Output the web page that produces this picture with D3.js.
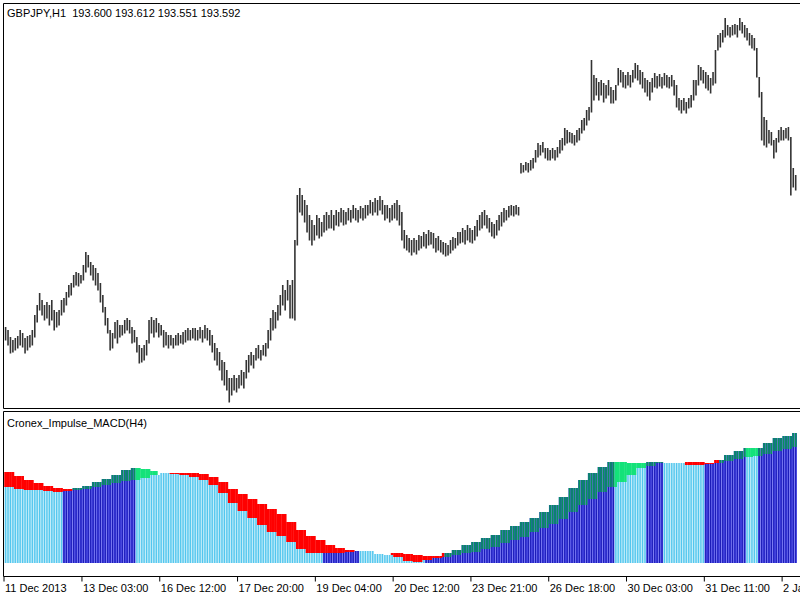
<!DOCTYPE html>
<html><head><meta charset="utf-8">
<script src="https://cdn.jsdelivr.net/npm/d3@7/dist/d3.min.js"></script>
<style>
html,body{margin:0;padding:0;background:#fff;}
svg{display:block;}
text{font-family:"Liberation Sans",Arial,sans-serif;font-size:11px;fill:#000;}
</style></head>
<body>
<svg id="chart" width="800" height="600"></svg>
<script>
// ---------- DATA ----------
const symbol = "GBPJPY,H1";
const quote = ["193.600", "193.612", "193.551", "193.592"];
const indicatorName = "Cronex_Impulse_MACD(H4)";

const hi = [169.73,169.70,169.63,169.60,169.62,169.64,169.70,169.67,169.62,169.64,
169.65,169.70,169.85,169.95,170.07,170.00,169.95,169.98,169.95,170.00,
169.90,169.88,169.90,170.00,170.02,170.08,170.15,170.17,170.25,170.28,
170.27,170.25,170.35,170.48,170.45,170.38,170.35,170.32,170.27,170.17,
170.05,169.93,169.82,169.70,169.67,169.78,169.80,169.75,169.75,169.80,
169.82,169.80,169.73,169.70,169.63,169.55,169.52,169.55,169.60,169.80,
169.83,169.80,169.82,169.77,169.75,169.70,169.68,169.65,169.65,169.62,
169.65,169.67,169.65,169.68,169.70,169.72,169.70,169.72,169.72,169.70,
169.73,169.70,169.75,169.72,169.70,169.65,169.57,169.52,169.48,169.40,
169.38,169.30,169.22,169.22,169.25,169.22,169.25,169.30,169.28,169.40,
169.45,169.48,169.45,169.52,169.55,169.50,169.55,169.57,169.70,169.82,
169.90,169.88,169.95,170.05,170.15,170.10,170.20,170.15,170.20,170.60,
171.05,171.12,171.05,171.00,170.95,170.85,170.80,170.75,170.85,170.82,
170.78,170.85,170.88,170.85,170.90,170.85,170.90,170.88,170.92,170.90,
170.88,170.92,170.90,170.95,170.92,170.90,170.94,170.92,170.95,170.95,
171.00,170.98,171.02,171.00,171.04,171.00,170.95,170.95,170.92,170.95,
170.97,171.00,170.95,170.88,170.70,170.65,170.62,170.60,170.62,170.60,
170.65,170.64,170.68,170.66,170.70,170.68,170.67,170.62,170.64,170.60,
170.58,170.57,170.55,170.60,170.63,170.62,170.68,170.68,170.72,170.70,
170.75,170.72,170.70,170.74,170.80,170.85,170.88,170.90,170.85,170.82,
170.78,170.76,170.80,170.85,170.88,170.92,170.90,170.94,170.95,170.94,
170.95,170.93,171.37,171.35,171.38,171.37,171.40,171.42,171.50,171.57,
171.55,171.58,171.52,171.52,171.50,171.52,171.50,171.53,171.60,171.62,
171.72,171.70,171.68,171.67,171.65,171.70,171.72,171.80,171.82,171.90,
171.93,172.40,172.25,172.22,172.18,172.20,172.17,172.15,172.20,172.13,
172.10,172.15,172.32,172.30,172.28,172.25,172.28,172.25,172.30,172.37,
172.35,172.30,172.28,172.22,172.20,172.18,172.22,172.27,172.24,172.26,
172.23,172.27,172.25,172.23,172.25,172.20,172.15,172.02,172.00,172.02,
171.98,172.02,172.05,172.20,172.20,172.35,172.33,172.30,172.28,172.25,
172.22,172.28,172.50,172.65,172.67,172.70,172.82,172.75,172.73,172.75,
172.76,172.75,172.82,172.78,172.75,172.72,172.67,172.65,172.62,172.52,
172.23,172.08,171.83,171.80,171.70,171.68,171.60,171.62,171.70,171.73,
171.70,171.72,171.73,171.63,171.32,171.25];

const lo = [169.60,169.55,169.47,169.48,169.50,169.52,169.55,169.53,169.47,169.50,
169.53,169.55,169.63,169.78,169.90,169.85,169.80,169.82,169.75,169.80,
169.70,169.73,169.75,169.85,169.88,169.95,170.03,170.05,170.13,170.15,
170.14,170.17,170.20,170.28,170.33,170.25,170.20,170.15,170.10,169.98,
169.88,169.75,169.67,169.50,169.52,169.62,169.57,169.63,169.65,169.67,
169.70,169.67,169.57,169.58,169.48,169.37,169.38,169.40,169.45,169.57,
169.67,169.63,169.68,169.63,169.65,169.53,169.55,169.52,169.55,169.52,
169.55,169.55,169.57,169.56,169.58,169.60,169.60,169.62,169.60,169.60,
169.62,169.58,169.62,169.60,169.55,169.48,169.40,169.35,169.30,169.20,
169.15,169.10,168.98,169.05,169.10,169.08,169.12,169.15,169.12,169.22,
169.28,169.35,169.32,169.40,169.42,169.40,169.45,169.44,169.52,169.60,
169.70,169.72,169.80,169.85,169.95,169.90,170.00,169.82,169.82,169.80,
170.55,170.88,170.85,170.78,170.68,170.60,170.55,170.60,170.65,170.62,
170.64,170.68,170.70,170.72,170.72,170.70,170.75,170.74,170.78,170.75,
170.76,170.80,170.78,170.82,170.80,170.78,170.82,170.80,170.82,170.85,
170.87,170.85,170.88,170.85,170.90,170.86,170.80,170.82,170.78,170.80,
170.82,170.80,170.75,170.60,170.52,170.50,170.48,170.45,170.48,170.46,
170.50,170.52,170.54,170.52,170.55,170.56,170.52,170.48,170.50,170.48,
170.46,170.44,170.45,170.47,170.50,170.52,170.55,170.57,170.58,170.56,
170.60,170.58,170.57,170.60,170.64,170.70,170.72,170.75,170.72,170.68,
170.64,170.62,170.65,170.70,170.74,170.78,170.80,170.83,170.85,170.84,
170.86,170.85,171.27,171.28,171.30,171.28,171.30,171.32,171.38,171.43,
171.45,171.48,171.42,171.40,171.40,171.42,171.40,171.43,171.47,171.50,
171.55,171.57,171.58,171.57,171.55,171.58,171.60,171.67,171.70,171.75,
171.80,171.88,172.00,172.05,172.00,172.05,171.98,172.02,172.05,171.97,
171.97,172.00,172.15,172.18,172.13,172.12,172.15,172.13,172.18,172.22,
172.20,172.16,172.12,172.08,172.04,172.00,172.08,172.13,172.12,172.14,
172.12,172.15,172.13,172.12,172.14,172.05,171.93,171.90,171.87,171.90,
171.87,171.92,171.93,172.00,172.05,172.15,172.20,172.17,172.12,172.10,
172.07,172.15,172.17,172.50,172.53,172.58,172.63,172.65,172.63,172.65,
172.66,172.63,172.70,172.67,172.63,172.60,172.55,172.52,172.50,172.23,
172.03,171.60,171.55,171.53,171.57,171.55,171.42,171.48,171.58,171.60,
171.60,171.62,171.60,171.05,171.13,171.10];

// Indicator, one value per H4 block (4 H1 bars each)
const signalTop = [0.455,0.435,0.415,0.400,0.385,0.375,0.370,0.375,0.385,0.405,
0.420,0.440,0.465,0.475,0.470,0.460,0.450,0.450,0.450,0.450,
0.445,0.430,0.405,0.370,0.345,0.320,0.295,0.270,0.245,0.205,
0.165,0.135,0.115,0.090,0.075,0.065,0.060,0.060,0.050,0.050,
0.050,0.045,0.040,0.035,0.035,0.050,0.065,0.090,0.105,0.125,
0.140,0.165,0.185,0.205,0.225,0.255,0.290,0.330,0.375,0.415,
0.450,0.480,0.505,0.505,0.500,0.500,0.505,0.505,0.500,0.500,
0.505,0.505,0.500,0.515,0.540,0.560,0.575,0.575,0.600,0.625,
0.635,0.650];
const histTop = [0.380,0.370,0.365,0.365,0.360,0.355,0.360,0.365,0.370,0.380,
0.390,0.400,0.410,0.415,0.425,0.440,0.450,0.445,0.440,0.430,
0.415,0.390,0.350,0.300,0.260,0.225,0.190,0.155,0.135,0.105,
0.070,0.050,0.050,0.050,0.050,0.055,0.060,0.060,0.045,0.040,
0.030,0.010,0.005,0.015,0.025,0.030,0.040,0.050,0.055,0.070,
0.080,0.100,0.115,0.130,0.155,0.175,0.195,0.220,0.255,0.290,
0.320,0.355,0.380,0.405,0.440,0.475,0.485,0.500,0.500,0.500,
0.490,0.490,0.495,0.500,0.510,0.520,0.530,0.535,0.545,0.560,
0.570,0.580];
// histogram direction: [first bar, state]
const histRuns = [[0,"down"],[24,"up"],[54,"down"],[131,"up"],[146,"down"],[173,"up"],
[251,"down"],[264,"up"],[271,"down"],[288,"up"],[305,"down"],[310,"up"]];
// signal band state: [first bar, state]
const bandRuns = [[0,"bear"],[28,"bull"],[54,"fade"],[63,"none"],[66,"bear"],[148,"none"],
[159,"bear"],[181,"bull"],[251,"fade"],[264,"bull"],[271,"none"],[280,"bear"],
[294,"bull"],[305,"fade"],[310,"bull"]];

const tickIdx = [0,31,63,95,127,159,191,223,255,287,319];
const tickLabels = ["11 Dec 2013","13 Dec 03:00","16 Dec 12:00","17 Dec 20:00","19 Dec 04:00",
"20 Dec 12:00","23 Dec 21:00","26 Dec 18:00","30 Dec 03:00","31 Dec 11:00","2 Jan 10:00"];

// ---------- DRAW ----------
const svg = d3.select("#chart");
const n = hi.length;
const x = d3.scaleLinear().domain([0, n - 1]).range([5.6, 795.7]);
const step = x(1) - x(0);
const yP = d3.scaleLinear().domain([168.95, 172.97]).range([405, 3]);
const yI = d3.scaleLinear().domain([0, 0.76]).range([563, 411]);

const stateAt = (runs, i) => { let s = runs[0][1]; for (const r of runs) { if (r[0] <= i) s = r[1]; } return s; };

// price bars
svg.append("g").selectAll("line").data(d3.range(n)).join("line")
  .attr("x1", i => x(i)).attr("x2", i => x(i))
  .attr("y1", i => yP(hi[i])).attr("y2", i => yP(lo[i]) + 0.5)
  .attr("stroke", "#333").attr("stroke-width", 1.6);

// indicator
const histCol = { down: ["#b2e7f7", "#52c6ee"], up: ["#5252ee", "#1c1cb8"] };
const bandCol = { bear: "#ff0000", fade: "#14e27a" };
const gI = svg.append("g");
d3.range(n).forEach(i => {
  const j = Math.floor(i / 4);
  const L = histTop[j], U = signalTop[j];
  const hs = stateAt(histRuns, i), bs = stateAt(bandRuns, i);
  const xi = x(i);
  const c = histCol[hs];
  gI.append("rect").attr("x", xi - step / 2).attr("width", step)
    .attr("y", yI(L)).attr("height", yI(0) - yI(L)).attr("fill", c[0]);
  gI.append("rect").attr("x", xi - 0.6).attr("width", 1.2)
    .attr("y", yI(L)).attr("height", yI(0) - yI(L)).attr("fill", c[1]);
  if (bs !== "none" && U > L) {
    if (bs === "bull") {
      gI.append("rect").attr("x", xi - step / 2).attr("width", step)
        .attr("y", yI(U)).attr("height", yI(L) - yI(U)).attr("fill", "#2058aa");
      gI.append("rect").attr("x", xi - 0.7).attr("width", 1.4)
        .attr("y", yI(U)).attr("height", yI(L) - yI(U)).attr("fill", "#06925a");
    } else {
      gI.append("rect").attr("x", xi - step / 2 - 0.15).attr("width", step + 0.3)
        .attr("y", yI(U)).attr("height", yI(L) - yI(U)).attr("fill", bandCol[bs]);
    }
  }
});

// frames
const frame = svg.append("g").attr("fill", "none").attr("stroke", "#000").attr("stroke-width", 1);
frame.append("path").attr("d", "M803.5,3.5H3.5V408.5H803.5");
frame.append("path").attr("d", "M803.5,411.5H3.5V576.5H803.5");

// time axis
const axis = d3.axisBottom(x).tickValues(tickIdx).tickSize(5)
  .tickFormat((d, k) => tickLabels[k]);
const gA = svg.append("g").attr("transform", "translate(0,576.5)").call(axis);
gA.select(".domain").remove();
gA.selectAll(".tick").filter(d => d === 0).attr("transform", "translate(3.5,0)");
gA.selectAll(".tick line").attr("stroke", "#000").attr("transform", "translate(0.5,0)");
gA.selectAll(".tick text").attr("text-anchor", "start").attr("x", 1.5).attr("y", 15.5).attr("dy", 0)
  .style("font-family", '"Liberation Sans",Arial,sans-serif').style("font-size", "11px").attr("fill", "#000");

// texts
svg.append("text").attr("x", 7).attr("y", 17).style("white-space", "pre")
  .text(symbol + "  " + quote.join(" "));
svg.append("text").attr("x", 7).attr("y", 427).text(indicatorName);
</script>
</body></html>
